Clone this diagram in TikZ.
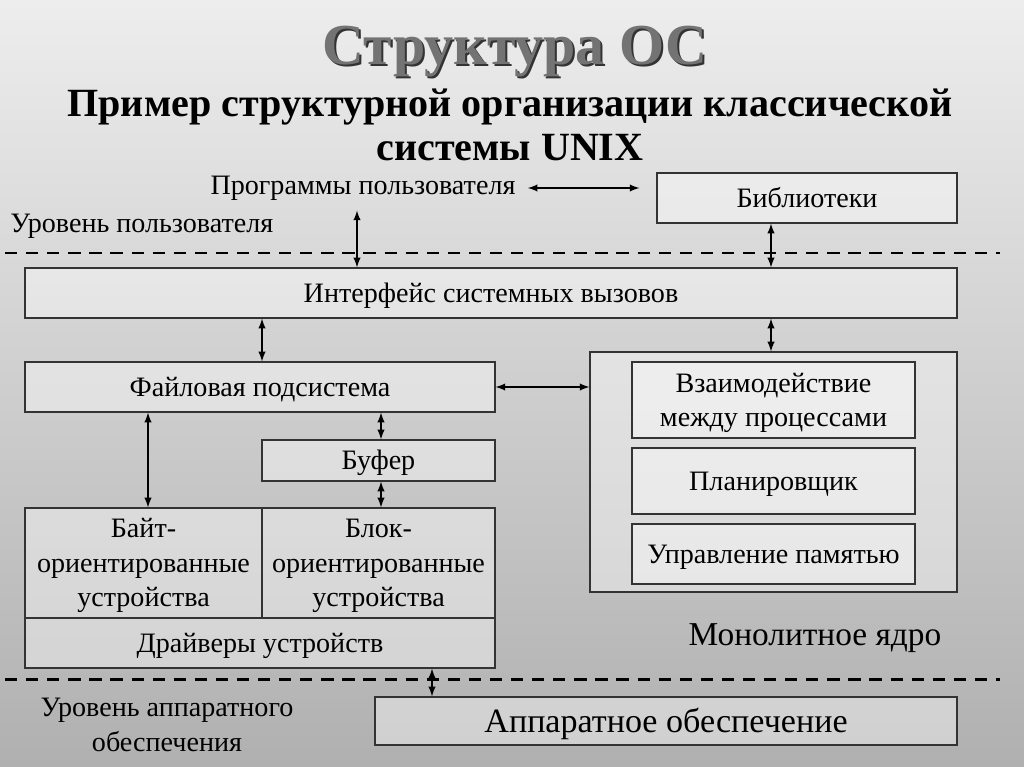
\documentclass[tikz,border=0pt]{standalone}
\usepackage{fontspec}
\setmainfont{Liberation Serif}
\usepackage{xcolor}

\begin{document}
\begin{tikzpicture}[x=0.02cm, y=-0.02cm,
    box/.style={draw=black!80, fill=white, fill opacity=0.4, text opacity=1, line width=0.7pt, inner sep=0pt,
        align=center, text height=10.8pt, text depth=0pt, font=\fontsize{16}{19.5}\selectfont},
    txt/.style={inner sep=0pt, align=center, font=\fontsize{16}{19.5}\selectfont},
    arr/.style={<->, >=latex, line width=0.9pt},
    level/.style={line width=1.7pt, dash pattern=on 7pt off 5pt}]
                % background
                \shade[top color=black!7, middle color=black!15, bottom color=black!31] (0,0) rectangle (1024,767);
                \useasboundingbox (0,0) rectangle (1024,767);

                % titles
                \node [font=\bfseries\fontsize{33}{38}\selectfont, text=black!80, anchor=base] (shadow) at (517,67) {Структура ОС};
                \node [font=\bfseries\fontsize{33}{38}\selectfont, text=black!55, anchor=base] (title) at (515,65) {Структура ОС};
                \node [font=\bfseries\fontsize{22.8}{25}\selectfont, align=center] (sub) at (510,125)
                    {Пример структурной организации классической\\системы UNIX};

                % user level
                \node [txt] (prog) at (363,188) {Программы пользователя};
                \node [txt, anchor=west] (ulevel) at (10,226) {Уровень пользователя};
                \node [box, minimum width=6cm, minimum height=1cm] (lib) at (807,198) {Библиотеки};

                % kernel
                \node [box, minimum width=18.64cm, minimum height=1cm] (intf) at (491,293) {Интерфейс системных вызовов};
                \node [box, minimum width=9.4cm, minimum height=1cm] (fs) at (260,387) {Файловая подсистема};
                \node [box, minimum width=7.34cm, minimum height=4.8cm] (kern) at (773.5,472) {};
                \node [box, text height=30pt, minimum width=5.66cm, minimum height=1.52cm] (ipc) at (773.5,400) {Взаимодействие\\между процессами};
                \node [box, minimum width=5.66cm, minimum height=1.32cm] (sched) at (773.5,481) {Планировщик};
                \node [box, minimum width=5.66cm, minimum height=1.2cm] (mem) at (773.5,554) {Управление памятью};
                \node [box, minimum width=4.66cm, minimum height=0.82cm] (buf) at (378.5,460.5) {Буфер};
                \node [box, text height=49.5pt, minimum width=4.74cm, minimum height=2.2cm] (byte) at (143.5,563) {Байт-\\ориентированные\\устройства};
                \node [box, text height=49.5pt, minimum width=4.66cm, minimum height=2.2cm] (block) at (378.5,563) {Блок-\\ориентированные\\устройства};
                \node [box, minimum width=9.4cm, minimum height=1cm] (drv) at (260,643) {Драйверы устройств};
                \node [txt, font=\fontsize{19}{22}\selectfont] (mono) at (815,638) {Монолитное ядро};

                % hardware level
                \node [txt] (hlevel) at (167,725) {Уровень аппаратного\\обеспечения};
                \node [box, font=\fontsize{19.4}{22}\selectfont, text height=13.6pt, minimum width=11.64cm, minimum height=0.96cm] (hw) at (666,721) {Аппаратное обеспечение};

                % level borders
                \coordinate (L1) at (5,253);
                \coordinate (R1) at (1000,253);
                \coordinate (L2) at (5,679);
                \coordinate (R2) at (1000,679);
                \draw[level] (L1) -- (R1);
                \draw[level] (L2) -- (R2);

                % arrows
                \coordinate (a1) at (357,0);
                \coordinate (a2) at (771,0);
                \coordinate (a3) at (262,0);
                \coordinate (a4) at (381,0);
                \coordinate (a5) at (148,0);
                \coordinate (a6) at (432,0);

                \draw[arr, shorten <=0.24cm, shorten >=0.34cm] (prog.east) -- (prog.east -| lib.west);
                \draw[arr, shorten <=0.2cm] (prog.south -| a1) -- (intf.north -| a1);
                \draw[arr] (lib.south -| a2) -- (intf.north -| a2);
                \draw[arr] (intf.south -| a3) -- (fs.north -| a3);
                \draw[arr] (intf.south -| a2) -- (kern.north -| a2);
                \draw[arr] (fs.east) -- (kern.west |- fs.east);
                \draw[arr] (fs.south -| a4) -- (buf.north -| a4);
                \draw[arr] (buf.south -| a4) -- (block.north -| a4);
                \draw[arr] (fs.south -| a5) -- (byte.north -| a5);
                \draw[arr] (drv.south -| a6) -- (hw.north -| a6);

                \end{tikzpicture}
\end{document}
